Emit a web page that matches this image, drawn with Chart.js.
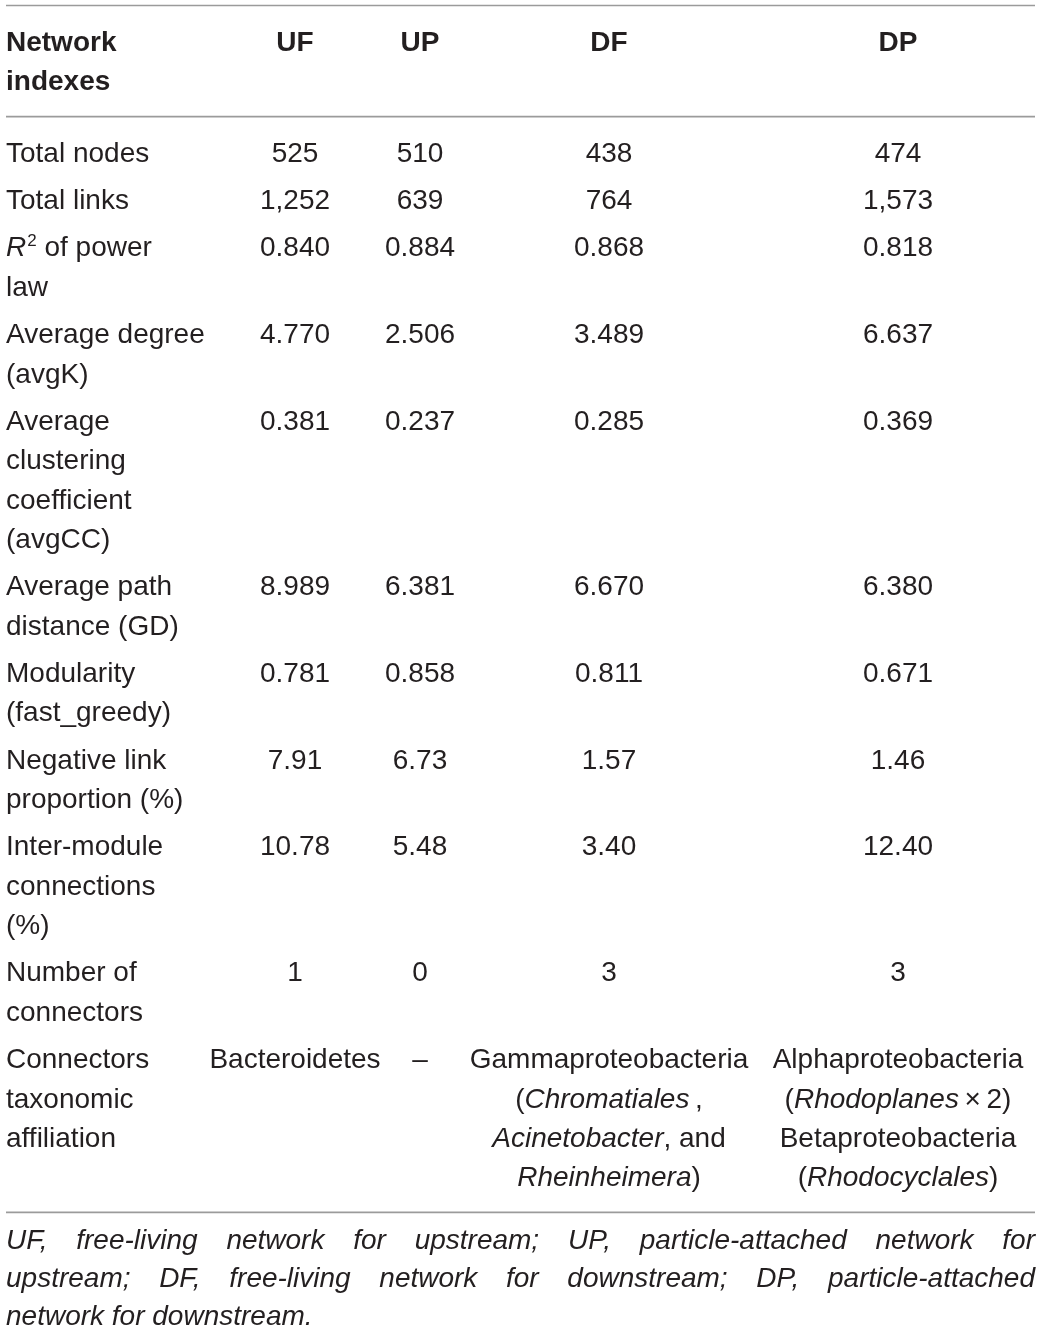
<!DOCTYPE html>
<html>
<head>
<meta charset="utf-8">
<title>Network indexes</title>
<script src="https://cdn.jsdelivr.net/npm/chart.js@4.4.1/dist/chart.umd.min.js"></script>
<style>
  html, body { margin: 0; padding: 0; background: #fff; }
  #wrap { width: 1041px; height: 1331px; position: relative; }
</style>
</head>
<body>
<div id="wrap"><canvas id="tbl"></canvas></div>
<script>
// Table content. *..* = italic, ^..^ = superscript
const headerLabel = ['Network', 'indexes'];
const columns = ['UF', 'UP', 'DF', 'DP'];

const rowLabels = [
  ['Total nodes'],
  ['Total links'],
  ['*R*^2^ of power', 'law'],
  ['Average degree', '(avgK)'],
  ['Average', 'clustering', 'coefficient', '(avgCC)'],
  ['Average path', 'distance (GD)'],
  ['Modularity', '(fast_greedy)'],
  ['Negative link', 'proportion (%)'],
  ['Inter-module', 'connections', '(%)'],
  ['Number of', 'connectors'],
  ['Connectors', 'taxonomic', 'affiliation']
];

const ufValues = ['525', '1,252', '0.840', '4.770', '0.381', '8.989', '0.781', '7.91', '10.78', '1',
  ['Bacteroidetes']];
const upValues = ['510', '639', '0.884', '2.506', '0.237', '6.381', '0.858', '6.73', '5.48', '0',
  ['\u2013']];
const dfValues = ['438', '764', '0.868', '3.489', '0.285', '6.670', '0.811', '1.57', '3.40', '3',
  ['Gammaproteobacteria', '(*Chromatiales*\u2009,', '*Acinetobacter*, and', '*Rheinheimera*)']];
const dpValues = ['474', '1,573', '0.818', '6.637', '0.369', '6.380', '0.671', '1.46', '12.40', '3',
  ['Alphaproteobacteria', '(*Rhodoplanes*\u2009\u00d7\u20092)', 'Betaproteobacteria', '(*Rhodocyclales*)']];

const footnoteLines = [
  'UF, free-living network for upstream; UP, particle-attached network for',
  'upstream; DF, free-living network for downstream; DP, particle-attached',
  'network for downstream.'
];

// layout (y in text-line units, x in table units)
const W = 1041, H = 1331;
const LINE_PX = 39.4;
const colX = [6, 295, 420, 609, 898];
const ruleX = [6, 1035];
const lay = {
  topRule: 0.14, headBase: 1.29, headRule: 2.96,
  bodyBase: 4.11, rowGap: 0.2, bottomGap: 0.66,
  noteGap: 0.94, noteStep: 0.965
};
const FAMILY = '"Liberation Sans", Arial, Helvetica, sans-serif';
const FONT_PX = 28;
const INK = '#231f20';
const RULE = '#9b9b9b';

function asLines(v) { return Array.isArray(v) ? v : [v]; }

// build the per-column point lists
const series = [rowLabels, ufValues, upValues, dfValues, dpValues];
const cellPts = series.map(() => []);
let y = lay.bodyBase, lastBase = y;
rowLabels.forEach((_, r) => {
  const n = Math.max(...series.map(s => asLines(s[r]).length));
  series.forEach((s, c) => {
    asLines(s[r]).forEach((t, k) => cellPts[c].push({ x: colX[c], y: y + k, text: t }));
  });
  lastBase = y + n - 1;
  y += n + lay.rowGap;
});
const bottomRule = lastBase + lay.bottomGap;

const headPts = [headerLabel.map((t, k) => ({ x: colX[0], y: lay.headBase + k, text: t }))];
columns.forEach((t, i) => headPts.push([{ x: colX[i + 1], y: lay.headBase, text: t }]));

const notePts = footnoteLines.map((t, k) => ({
  x: ruleX[0], y: bottomRule + lay.noteGap + k * lay.noteStep, text: t,
  justifyTo: k < footnoteLines.length - 1 ? ruleX[1] : null
}));

function ruleSet(u) {
  return {
    type: 'scatter', showLine: true, borderColor: RULE, borderWidth: 1.6,
    pointRadius: 0, data: [{ x: ruleX[0], y: u }, { x: ruleX[1], y: u }]
  };
}
function textSet(pts, opts) {
  return Object.assign({ type: 'scatter', pointRadius: 0, showLine: false, data: pts, cellText: true }, opts);
}

const datasets = [
  ruleSet(lay.topRule), ruleSet(lay.headRule), ruleSet(bottomRule),
  textSet(headPts[0], { align: 'left', bold: true })
];
headPts.slice(1).forEach(p => datasets.push(textSet(p, { align: 'center', bold: true })));
cellPts.forEach((p, c) => datasets.push(textSet(p, { align: c === 0 ? 'left' : 'center' })));
datasets.push(textSet(notePts, { align: 'left', italicAll: true }));

function parseRuns(str, italicAll) {
  const runs = [];
  let it = false, sup = false, buf = '';
  const flush = () => { if (buf) runs.push({ t: buf, italic: it || italicAll, sup }); buf = ''; };
  for (const ch of str) {
    if (ch === '*') { flush(); it = !it; }
    else if (ch === '^') { flush(); sup = !sup; }
    else buf += ch;
  }
  flush();
  return runs;
}

function fontFor(run, bold) {
  const size = run.sup ? Math.round(FONT_PX * 0.6) : FONT_PX;
  return (run.italic ? 'italic ' : '') + (bold ? 'bold ' : '') + size + 'px ' + FAMILY;
}

function drawCell(ctx, ds, d, px, py, endPx) {
  const runs = parseRuns(d.text, ds.italicAll);
  ctx.fillStyle = INK;
  ctx.textBaseline = 'alphabetic';
  ctx.textAlign = 'left';
  if (endPx != null) {
    // justified line: spread the words across the full width
    const words = runs.map(r => r.t).join('').split(' ');
    ctx.font = fontFor(runs[0], ds.bold);
    const widths = words.map(w => ctx.measureText(w).width);
    const sum = widths.reduce((a, b) => a + b, 0);
    const gap = (endPx - px - sum) / (words.length - 1);
    let x = px;
    words.forEach((w, i) => { ctx.fillText(w, x, py); x += widths[i] + gap; });
    return;
  }
  const widths = runs.map(r => { ctx.font = fontFor(r, ds.bold); return ctx.measureText(r.t).width; });
  const total = widths.reduce((a, b) => a + b, 0);
  let x = ds.align === 'center' ? px - total / 2 : px;
  runs.forEach((r, i) => {
    ctx.font = fontFor(r, ds.bold);
    ctx.fillText(r.t, x + (r.sup ? 1 : 0), r.sup ? py - FONT_PX * 0.38 : py);
    x += widths[i] + (r.sup ? 1 : 0);
  });
}

const tableText = {
  id: 'tableText',
  afterDatasetsDraw(chart) {
    const ctx = chart.ctx;
    ctx.save();
    chart.data.datasets.forEach((ds, di) => {
      if (!ds.cellText) return;
      const meta = chart.getDatasetMeta(di);
      meta.data.forEach((pt, i) => {
        const d = ds.data[i];
        const endPx = d.justifyTo != null ? chart.scales.x.getPixelForValue(d.justifyTo) : null;
        drawCell(ctx, ds, d, pt.x, pt.y, endPx);
      });
    });
    ctx.restore();
  }
};

new Chart(document.getElementById('tbl').getContext('2d'), {
  type: 'scatter',
  data: { datasets },
  options: {
    responsive: true,
    maintainAspectRatio: false,
    animation: false,
    events: [],
    layout: { padding: 0 },
    plugins: { legend: { display: false }, tooltip: { enabled: false } },
    scales: {
      x: { type: 'linear', display: false, min: 0, max: W },
      y: { type: 'linear', display: false, reverse: true, min: 0, max: H / LINE_PX }
    }
  },
  plugins: [tableText]
});
</script>
</body>
</html>
